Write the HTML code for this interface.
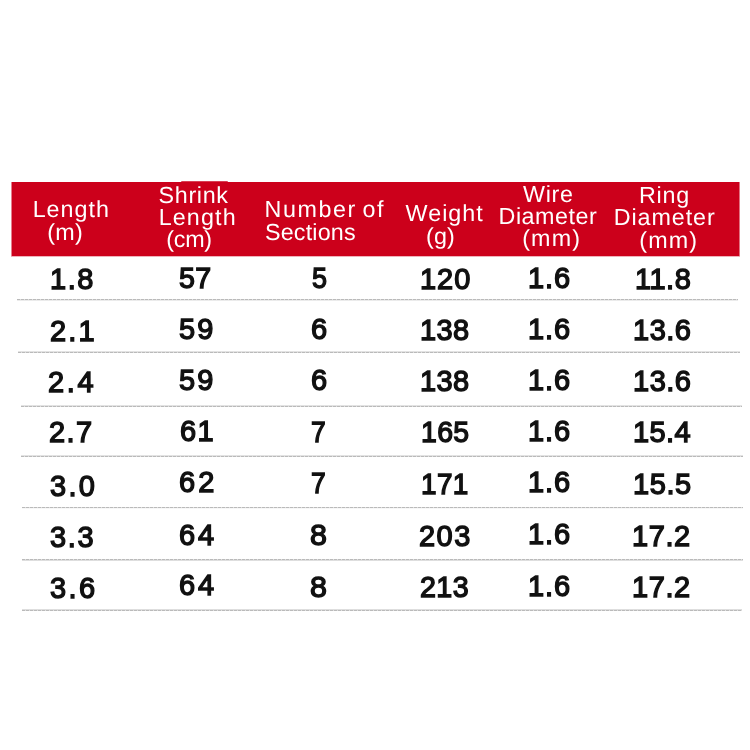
<!DOCTYPE html>
<html lang="en">
<head>
<meta charset="utf-8">
<title>Size chart</title>
<style>
html,body{margin:0;padding:0;background:#fff;}
body{width:750px;height:750px;position:relative;overflow:hidden;font-family:"Liberation Sans",Arial,sans-serif;}
.chart{position:absolute;left:0;top:0;width:750px;height:750px;}
.thead{position:absolute;left:11px;top:182px;width:729px;height:75px;background:
 linear-gradient(#cc001b,#cc001b) 1px 0/727px 74px no-repeat,
 linear-gradient(rgba(204,0,27,.5),rgba(204,0,27,.5)) 0 0/1px 74px no-repeat,
 linear-gradient(rgba(204,0,27,.55),rgba(204,0,27,.55)) 728px 0/1px 74px no-repeat,
 linear-gradient(rgba(204,0,27,.3),rgba(204,0,27,.3)) 0 74px/729px 1px no-repeat;}
.bump{position:absolute;left:181px;top:181px;width:47px;height:2px;background:#cc001b;opacity:.75;border-radius:1px;}
.th,.td{position:absolute;white-space:nowrap;line-height:1;margin:0;padding:0;}
.th{color:#fff;font-size:23.3px;font-weight:400;text-rendering:geometricPrecision;}
.td{color:#111;font-size:29.9px;font-weight:400;-webkit-text-stroke:1.4px #111;transform:scaleX(0.97);transform-origin:0 0;}
.rule{position:absolute;height:1px;background:repeating-linear-gradient(90deg,#bababa 0,#bababa 3px,#dedede 3px,#dedede 4px);}
</style>
</head>
<body>
<div class="chart">
<div class="bump"></div>
<div class="thead"></div>
<div class="hrow">
<span class="th" style="left:32.67px;top:198px;letter-spacing:1.01px;">Length</span>
<span class="th" style="left:47.25px;top:221px;letter-spacing:0.28px;">(m)</span>
<span class="th" style="left:158.60px;top:184px;letter-spacing:0.66px;">Shrink</span>
<span class="th" style="left:158.68px;top:206px;letter-spacing:1.14px;">Length</span>
<span class="th" style="left:166.18px;top:228px;letter-spacing:-0.22px;">(cm)</span>
<span class="th" style="left:264.57px;top:198px;word-spacing:-2.40px;letter-spacing:1.57px;">Number of</span>
<span class="th" style="left:265.00px;top:221px;letter-spacing:0.18px;">Sections</span>
<span class="th" style="left:405.56px;top:202px;letter-spacing:1.03px;">Weight</span>
<span class="th" style="left:426.00px;top:225px;letter-spacing:0.13px;">(g)</span>
<span class="th" style="left:523.00px;top:183px;letter-spacing:0.69px;">Wire</span>
<span class="th" style="left:498.57px;top:205px;letter-spacing:0.53px;">Diameter</span>
<span class="th" style="left:522.18px;top:227px;letter-spacing:1.16px;">(mm)</span>
<span class="th" style="left:639.04px;top:184px;letter-spacing:0.75px;">Ring</span>
<span class="th" style="left:613.68px;top:206px;letter-spacing:0.93px;">Diameter</span>
<span class="th" style="left:639.25px;top:229px;letter-spacing:1.18px;">(mm)</span>
</div>
<div class="row">
<span class="td" style="left:49.74px;top:264px;letter-spacing:1.58px;">1.8</span>
<span class="td" style="left:179.41px;top:263px;letter-spacing:0.40px;transform:scaleX(0.957);">57</span>
<span class="td" style="left:312.03px;top:263px;transform:scaleX(0.902);">5</span>
<span class="td" style="left:420.04px;top:264px;letter-spacing:0.98px;">120</span>
<span class="td" style="left:528.24px;top:263px;letter-spacing:0.91px;">1.6</span>
<span class="td" style="left:634.55px;top:264px;letter-spacing:0.52px;">11.8</span>
<div class="rule" style="left:17px;top:299px;width:721px;box-shadow:0 1px 0 rgba(0,0,0,0.08);"></div>
</div>
<div class="row">
<span class="td" style="left:49.71px;top:316px;letter-spacing:2.17px;">2.1</span>
<span class="td" style="left:179.21px;top:314px;letter-spacing:2.23px;">59</span>
<span class="td" style="left:310.51px;top:314px;">6</span>
<span class="td" style="left:420.06px;top:315px;letter-spacing:0.40px;">138</span>
<span class="td" style="left:528.24px;top:314px;letter-spacing:0.91px;">1.6</span>
<span class="td" style="left:633.45px;top:315px;letter-spacing:0.52px;">13.6</span>
<div class="rule" style="left:18px;top:352px;width:722px;box-shadow:0 -1px 0 rgba(0,0,0,0.11);"></div>
</div>
<div class="row">
<span class="td" style="left:48.41px;top:367px;letter-spacing:2.68px;">2.4</span>
<span class="td" style="left:179.21px;top:365px;letter-spacing:2.23px;">59</span>
<span class="td" style="left:310.51px;top:365px;">6</span>
<span class="td" style="left:420.06px;top:366px;letter-spacing:0.40px;">138</span>
<span class="td" style="left:528.24px;top:365px;letter-spacing:0.91px;">1.6</span>
<span class="td" style="left:633.45px;top:366px;letter-spacing:0.52px;">13.6</span>
<div class="rule" style="left:21px;top:406px;width:721px;box-shadow:0 -1px 0 rgba(0,0,0,0.11);"></div>
</div>
<div class="row">
<span class="td" style="left:49.41px;top:417px;letter-spacing:1.50px;">2.7</span>
<span class="td" style="left:179.71px;top:416px;letter-spacing:1.41px;">61</span>
<span class="td" style="left:311.23px;top:417px;transform:scaleX(0.884);">7</span>
<span class="td" style="left:420.85px;top:417px;letter-spacing:0.40px;transform:scaleX(0.950);">165</span>
<span class="td" style="left:528.34px;top:416px;letter-spacing:1.00px;">1.6</span>
<span class="td" style="left:633.06px;top:417px;letter-spacing:0.40px;">15.4</span>
<div class="rule" style="left:21px;top:456px;width:722px;box-shadow:0 -1px 0 rgba(0,0,0,0.11);"></div>
</div>
<div class="row">
<span class="td" style="left:49.60px;top:471px;letter-spacing:2.38px;">3.0</span>
<span class="td" style="left:179.21px;top:467px;letter-spacing:3.16px;">62</span>
<span class="td" style="left:311.23px;top:468px;transform:scaleX(0.884);">7</span>
<span class="td" style="left:421.09px;top:469px;letter-spacing:0.40px;transform:scaleX(0.934);">171</span>
<span class="td" style="left:528.34px;top:467px;letter-spacing:1.00px;">1.6</span>
<span class="td" style="left:632.74px;top:469px;letter-spacing:0.61px;">15.5</span>
<div class="rule" style="left:22px;top:507px;width:721px;box-shadow:0 1px 0 rgba(0,0,0,0.03);"></div>
</div>
<div class="row">
<span class="td" style="left:49.60px;top:522px;letter-spacing:1.71px;">3.3</span>
<span class="td" style="left:179.21px;top:520px;letter-spacing:2.85px;">64</span>
<span class="td" style="left:310.19px;top:520px;transform:scaleX(1.018);">8</span>
<span class="td" style="left:419.41px;top:521px;letter-spacing:1.52px;">203</span>
<span class="td" style="left:528.34px;top:519px;letter-spacing:1.00px;">1.6</span>
<span class="td" style="left:632.35px;top:521px;letter-spacing:0.60px;">17.2</span>
<div class="rule" style="left:22px;top:559px;width:721px;box-shadow:0 1px 0 rgba(0,0,0,0.13);"></div>
</div>
<div class="row">
<span class="td" style="left:49.60px;top:573px;letter-spacing:2.47px;">3.6</span>
<span class="td" style="left:179.21px;top:570px;letter-spacing:2.85px;">64</span>
<span class="td" style="left:310.19px;top:572px;transform:scaleX(1.018);">8</span>
<span class="td" style="left:420.31px;top:572px;letter-spacing:0.40px;transform:scaleX(0.959);">213</span>
<span class="td" style="left:528.34px;top:571px;letter-spacing:1.00px;">1.6</span>
<span class="td" style="left:632.35px;top:572px;letter-spacing:0.60px;">17.2</span>
<div class="rule" style="left:22px;top:610px;width:720px;box-shadow:0 -1px 0 rgba(0,0,0,0.13);"></div>
</div>
</div>
</body>
</html>
